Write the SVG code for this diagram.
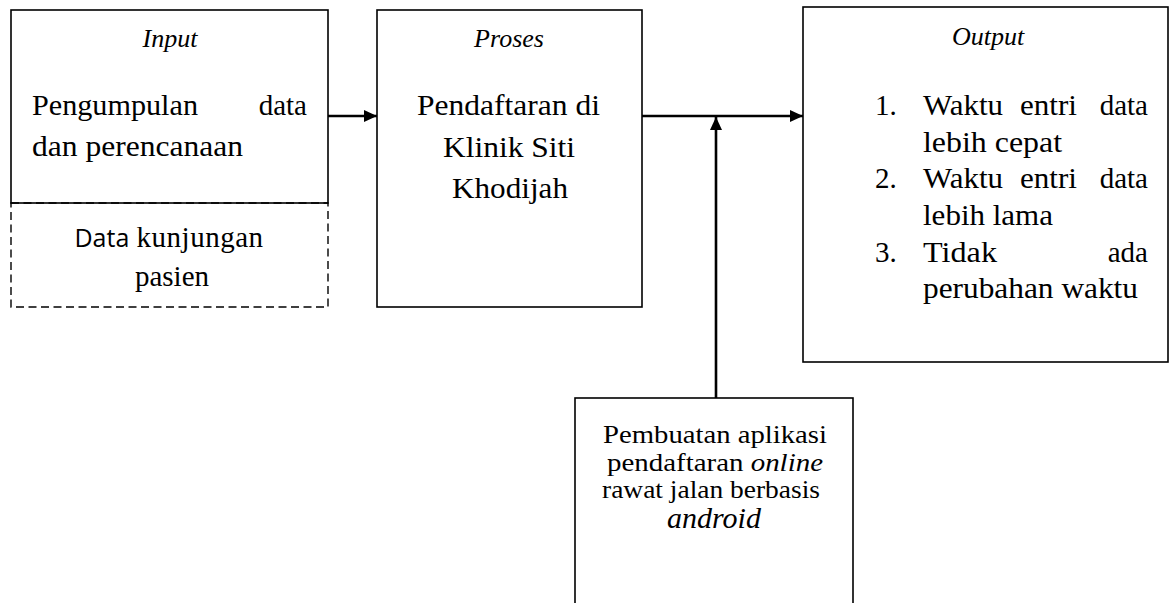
<svg xmlns="http://www.w3.org/2000/svg" width="1174" height="603" viewBox="0 0 1174 603">
<style>
.box{fill:none;stroke:#000;stroke-width:1.6}
.dash{fill:none;stroke:#000;stroke-width:1.4;stroke-dasharray:8 4.5}
.conn{fill:none;stroke:#000;stroke-width:2.6}
.f{font-family:'Liberation Serif','Times New Roman',Times,'Noto Serif','DejaVu Serif',serif}
.t{font-size:26px;font-style:italic}
.m{font-size:29px}
.s{font-size:26px}
.c{text-anchor:middle}
.e{text-anchor:end}
</style>
<defs>
<marker id="ah" markerUnits="userSpaceOnUse" markerWidth="14" markerHeight="12" refX="13" refY="6" orient="auto">
<path d="M0,0 L13,6 L0,12 Z" fill="#000"/>
</marker>
</defs>
<rect width="1174" height="603" fill="#fff"/>
<g class="f" fill="#000">
<g id="input">
<rect class="box" x="11" y="10" width="317" height="193"/>
<text class="t c" x="170" y="47">Input</text>
<text class="m" x="32" y="115" textLength="166" lengthAdjust="spacingAndGlyphs">Pengumpulan</text>
<text class="m e" x="307" y="115">data</text>
<text class="m" x="32" y="156" textLength="211" lengthAdjust="spacingAndGlyphs">dan perencanaan</text>
</g>
<g id="data-kunjungan">
<rect class="dash" x="11" y="203" width="317" height="104"/>
<text class="m c" x="169" y="247"><tspan font-family="'Open Sans','Noto Sans',sans-serif" font-size="25">Data</tspan> <tspan letter-spacing="0.5">kunjungan</tspan></text>
<text class="m c" x="172" y="286">pasien</text>
</g>
<g id="proses">
<rect class="box" x="377" y="10" width="265" height="297"/>
<text class="t c" x="509" y="47">Proses</text>
<text class="m" x="417" y="115" textLength="183" lengthAdjust="spacingAndGlyphs">Pendaftaran di</text>
<text class="m" x="443" y="157" textLength="132" lengthAdjust="spacingAndGlyphs">Klinik Siti</text>
<text class="m" x="452" y="198" textLength="116" lengthAdjust="spacingAndGlyphs">Khodijah</text>
</g>
<g id="output">
<rect class="box" x="803" y="7" width="365" height="355"/>
<text class="t c" x="988" y="45">Output</text>
<text class="m" x="875" y="115">1.</text>
<text class="m" x="923" y="115" textLength="80" lengthAdjust="spacingAndGlyphs">Waktu</text>
<text class="m" x="1020" y="115" textLength="57" lengthAdjust="spacingAndGlyphs">entri</text>
<text class="m e" x="1148" y="115">data</text>
<text class="m" x="923" y="152" textLength="139" lengthAdjust="spacingAndGlyphs">lebih cepat</text>
<text class="m" x="875" y="188">2.</text>
<text class="m" x="923" y="188" textLength="80" lengthAdjust="spacingAndGlyphs">Waktu</text>
<text class="m" x="1020" y="188" textLength="57" lengthAdjust="spacingAndGlyphs">entri</text>
<text class="m e" x="1148" y="188">data</text>
<text class="m" x="923" y="225" textLength="130" lengthAdjust="spacingAndGlyphs">lebih lama</text>
<text class="m" x="875" y="262">3.</text>
<text class="m" x="923" y="262" textLength="74" lengthAdjust="spacingAndGlyphs">Tidak</text>
<text class="m e" x="1148" y="262">ada</text>
<text class="m" x="923" y="298" textLength="215" lengthAdjust="spacingAndGlyphs">perubahan waktu</text>
</g>
<g id="pembuatan">
<rect class="box" x="575" y="398" width="278" height="230"/>
<text class="s" x="603" y="443" textLength="224" lengthAdjust="spacingAndGlyphs">Pembuatan aplikasi</text>
<text class="s" x="607" y="471" textLength="216" lengthAdjust="spacingAndGlyphs">pendaftaran <tspan font-style="italic">online</tspan></text>
<text class="s" x="602" y="498" textLength="218" lengthAdjust="spacingAndGlyphs">rawat jalan berbasis</text>
<text class="c" x="714" y="528" font-size="30" font-style="italic">android</text>
</g>
</g>
<g id="connectors">
<line class="conn" x1="328" y1="116" x2="377" y2="116" marker-end="url(#ah)"/>
<line class="conn" x1="642" y1="116" x2="803" y2="116" marker-end="url(#ah)"/>
<line class="conn" x1="716" y1="398" x2="716" y2="117" marker-end="url(#ah)"/>
</g>
</svg>
